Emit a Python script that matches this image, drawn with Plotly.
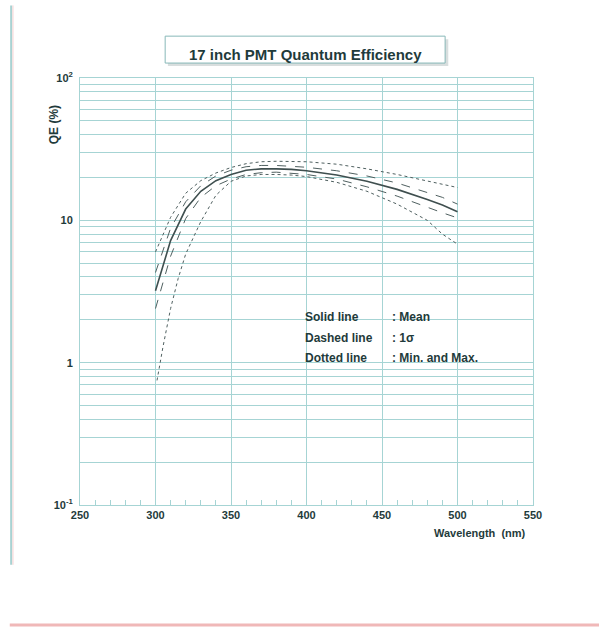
import plotly.graph_objects as go
import math

# ---- data ----
wl = [300, 310, 320, 330, 340, 350, 360, 370, 380, 390, 400, 420, 440, 460, 480, 490, 500]
qe_mean = [3.2, 7.2, 12.0, 16.0, 19.0, 21.0, 22.5, 23.0, 23.0, 22.8, 22.3, 20.8, 18.8, 16.5, 14.0, 12.8, 11.5]
qe_plus1s = [4.3, 8.8, 13.5, 17.5, 20.5, 22.5, 23.8, 24.3, 24.3, 24.0, 23.6, 22.3, 20.5, 18.3, 15.8, 14.5, 13.0]
qe_minus1s = [2.4, 5.6, 10.3, 14.5, 17.5, 19.5, 21.0, 21.6, 21.8, 21.5, 21.0, 19.5, 17.2, 14.8, 12.3, 11.3, 10.4]
qe_max = [6.0, 10.5, 15.5, 19.0, 21.5, 23.5, 25.0, 25.8, 26.0, 26.0, 25.8, 24.8, 23.0, 21.0, 19.0, 18.0, 17.0]
wl_min = [301, 305, 310, 315, 320, 330, 340, 350, 360, 370, 380, 390, 400, 420, 440, 460, 480, 490, 500]
qe_min = [0.75, 1.3, 2.4, 3.9, 5.8, 9.8, 15.0, 18.8, 20.5, 21.0, 21.0, 20.8, 20.3, 18.5, 16.0, 13.0, 10.0, 8.0, 6.8]

x_ticks = [250, 300, 350, 400, 450, 500, 550]
y_ticks = [0.1, 1, 10, 100]
y_ticktext = ["10<sup>-1</sup>", "1", "10", "10<sup>2</sup>"]

title_text = "17 inch PMT Quantum Efficiency"
legend_labels = ["Solid line", "Dashed line", "Dotted line"]
legend_values = [": Mean", ": 1\u03c3", ": Min. and Max."]

# ---- style ----
FONT = "Liberation Sans"
TXT = "#1f3b3b"
GRID = "#a6d4d4"
CURVE = "#4f6060"

fig = go.Figure()
fig.add_trace(go.Scatter(x=wl, y=qe_max, mode="lines", line=dict(color=CURVE, width=1, dash="dot")))
fig.add_trace(go.Scatter(x=wl_min, y=qe_min, mode="lines", line=dict(color=CURVE, width=1, dash="dot")))
fig.add_trace(go.Scatter(x=wl, y=qe_plus1s, mode="lines", line=dict(color=CURVE, width=1, dash="dash")))
fig.add_trace(go.Scatter(x=wl, y=qe_minus1s, mode="lines", line=dict(color=CURVE, width=1, dash="dash")))
fig.add_trace(go.Scatter(x=wl, y=qe_mean, mode="lines", line=dict(color="#3f4f4f", width=1.6)))

fig.update_layout(
    width=599, height=628,
    margin=dict(l=80, r=66, t=78, b=123),
    paper_bgcolor="white", plot_bgcolor="white",
    showlegend=False,
    font=dict(family=FONT, color=TXT),
)
fig.update_xaxes(
    range=[250, 550], tickvals=x_ticks,
    showgrid=True, gridcolor=GRID, gridwidth=1,
    showline=True, linecolor=GRID, mirror=True, linewidth=1,
    ticks="inside", ticklen=0, tickcolor=GRID,
    minor=dict(dtick=10, ticks="inside", ticklen=5, tickcolor=GRID, showgrid=False),
    tickfont=dict(size=11, family=FONT, color=TXT, weight="bold"),
    zeroline=False,
)
fig.update_yaxes(
    type="log", range=[-1, 2], tickvals=y_ticks, ticktext=y_ticktext,
    showgrid=True, gridcolor=GRID, gridwidth=1,
    showline=True, linecolor=GRID, mirror=True, linewidth=1,
    minor=dict(dtick="D1", showgrid=True, gridcolor=GRID, gridwidth=1, ticks=""),
    tickfont=dict(size=11, family=FONT, color=TXT, weight="bold"),
    ticklabelstandoff=4,
    zeroline=False,
)

# title box with shadow
fig.add_shape(type="rect", xref="paper", yref="paper",
              x0=0.194, x1=0.813, y0=1.028, y1=1.091,
              line=dict(width=0), fillcolor="#d8dede", layer="below")
fig.add_shape(type="rect", xref="paper", yref="paper",
              x0=0.188, x1=0.806, y0=1.035, y1=1.098,
              line=dict(color="#88b8b8", width=1), fillcolor="white")
fig.add_annotation(xref="paper", yref="paper", x=0.497, y=1.080,
                   text=title_text, showarrow=False,
                   font=dict(size=15, family=FONT, color=TXT, weight="bold"))

# axis titles
fig.add_annotation(xref="paper", yref="paper", x=-0.077, y=0.94,
                   text="QE (%)", textangle=-90, showarrow=False,
                   font=dict(size=12, family=FONT, color=TXT, weight="bold"))
fig.add_annotation(xref="paper", yref="paper", x=0.99, y=-0.084,
                   text="Wavelength  (nm)", showarrow=False, xanchor="right",
                   font=dict(size=11, family=FONT, color=TXT, weight="bold"))

# legend text
leg_y = [2.1, 1.5, 1.07]
for lab, val, yy in zip(legend_labels, legend_values, leg_y):
    fig.add_annotation(x=398, y=math.log10(yy), text=lab, showarrow=False, xanchor="left",
                       font=dict(size=12, family=FONT, color=TXT, weight="bold"))
    fig.add_annotation(x=455, y=math.log10(yy), text=val, showarrow=False, xanchor="left",
                       font=dict(size=12, family=FONT, color=TXT, weight="bold"))

# scan edge lines
fig.add_shape(type="line", xref="paper", yref="paper", x0=-0.152, x1=-0.152, y0=1.17, y1=-0.14,
              line=dict(color="#a8d2d2", width=2))
fig.add_shape(type="line", xref="paper", yref="paper", x0=-0.148, x1=-0.148, y0=1.17, y1=-0.14,
              line=dict(color="#f4d0d0", width=1))
fig.add_shape(type="line", xref="paper", yref="paper", x0=-0.155, x1=1.15, y0=-0.281, y1=-0.281,
              line=dict(color="#f0b8b8", width=3))

fig.write_html("out.html")
